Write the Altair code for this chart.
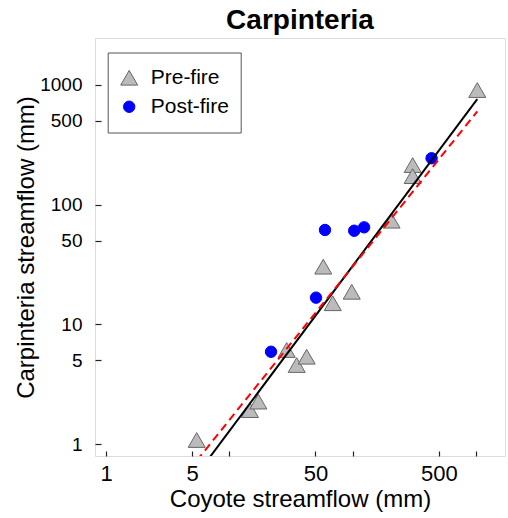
import altair as alt
import pandas as pd

# Pre-fire (triangles) and post-fire (circles) annual streamflow, mm
pre_x = [5.44, 14.7, 17.2, 29.2, 35.2, 42.4, 57.8, 69.0, 98.4, 207, 307, 307, 1026]
pre_y = [1.08, 1.92, 2.26, 6.1, 4.57, 5.36, 30.3, 15.0, 18.7, 73.4, 214, 173, 906]
post_x = [21.8, 50.5, 59.7, 103, 124, 437]
post_y = [5.9, 16.7, 61.4, 60.5, 64.6, 244]

# fitted lines, read at the ends of the data range
fit_x = [5.44, 1026]
black_y = [0.554, 760]
red_y = [0.726, 600]

groups = ["Pre-fire", "Post-fire"]
x_ticks = [1, 5, 10, 50, 100, 500, 1000]
x_labels = [1, 5, 50, 500]
y_ticks = [1, 5, 10, 50, 100, 500, 1000]

FONT = "Liberation Sans"

pts = pd.DataFrame({
    "x": pre_x + post_x,
    "y": pre_y + post_y,
    "g": [groups[0]] * len(pre_x) + [groups[1]] * len(post_x),
})
black_df = pd.DataFrame({"x": fit_x, "y": black_y})
red_df = pd.DataFrame({"x": fit_x, "y": red_y})

xs = alt.Scale(type="log", domain=[0.814, 1722], nice=False)
ys = alt.Scale(type="log", domain=[0.794, 2466], nice=False)

leg = alt.Legend(
    title=None, orient="none", legendX=12.7, legendY=14.5,
    padding=11, clipHeight=28.5, rowPadding=0,
    symbolSize=130, symbolStrokeWidth=1, labelFontSize=21, labelFont=FONT,
    labelColor="black", labelOffset=11,
    strokeColor="#555555", fillColor="white", cornerRadius=0,
)

points = alt.Chart(pts).mark_point(filled=True, opacity=1, strokeWidth=1).encode(
    x=alt.X("x:Q", scale=xs, axis=alt.Axis(
        orient="bottom", values=x_labels, format="d", ticks=False, domain=False,
        grid=False, labelFontSize=22, labelPadding=7, labelFont=FONT, labelColor="black",
        title="Coyote streamflow (mm)", titleFontSize=24, titleFontWeight="normal",
        titleFont=FONT, titleColor="black", titleX=205, titleY=50,
        titleBaseline="alphabetic", titleAlign="center")),
    y=alt.Y("y:Q", scale=ys, axis=alt.Axis(
        orient="left", values=y_ticks, format="d", ticks=False, domain=False,
        grid=False, labelFontSize=19, labelPadding=13, labelFont=FONT, labelColor="black",
        title="Carpinteria streamflow (mm)", titleFontSize=24, titleFontWeight="normal",
        titleFont=FONT, titleColor="black", titleX=-62, titleY=209, titleAngle=270,
        titleBaseline="alphabetic", titleAlign="center")),
    shape=alt.Shape("g:N", scale=alt.Scale(domain=groups, range=["triangle-up", "circle"]), legend=leg),
    color=alt.Color("g:N", scale=alt.Scale(domain=groups, range=["#bbbbbb", "#0000ff"]), legend=leg),
    stroke=alt.Stroke("g:N", scale=alt.Scale(domain=groups, range=["#666666", "#0000ff"]), legend=leg),
    size=alt.Size("g:N", scale=alt.Scale(domain=groups, range=[290, 130]), legend=None),
)

black = alt.Chart(black_df).mark_line(color="black", strokeWidth=2, clip=True).encode(
    x=alt.X("x:Q", scale=xs, axis=alt.Axis(
        orient="top", offset=-418, values=x_ticks, labels=False, domain=False,
        ticks=True, tickSize=5, tickColor="#222222", tickWidth=1.2, grid=False, title=None)),
    y=alt.Y("y:Q", scale=ys, axis=alt.Axis(
        orient="right", offset=-410, values=y_ticks, labels=False, domain=False,
        ticks=True, tickSize=6, tickColor="#222222", tickWidth=1.2, grid=False, title=None)),
)

red = alt.Chart(red_df).mark_line(color="#ff0000", strokeWidth=2, strokeDash=[8, 5], clip=True).encode(
    x=alt.X("x:Q", scale=xs, axis=None),
    y=alt.Y("y:Q", scale=ys, axis=None),
)

chart = alt.layer(points, black, red).resolve_axis(
    x="independent", y="independent"
).properties(
    width=410, height=418,
    padding={"left": 95, "top": 38, "right": 3, "bottom": 62},
    autosize=alt.AutoSizeParams(type="none"),
    title=alt.TitleParams("Carpinteria", fontSize=28, fontWeight="bold", font=FONT,
                          color="black", anchor="middle", baseline="alphabetic",
                          offset=9, dy=28),
).configure_view(stroke="#222222", strokeWidth=1.5).configure(background="white")

chart.save("out.html", embed_options={"renderer": "svg", "actions": False})
